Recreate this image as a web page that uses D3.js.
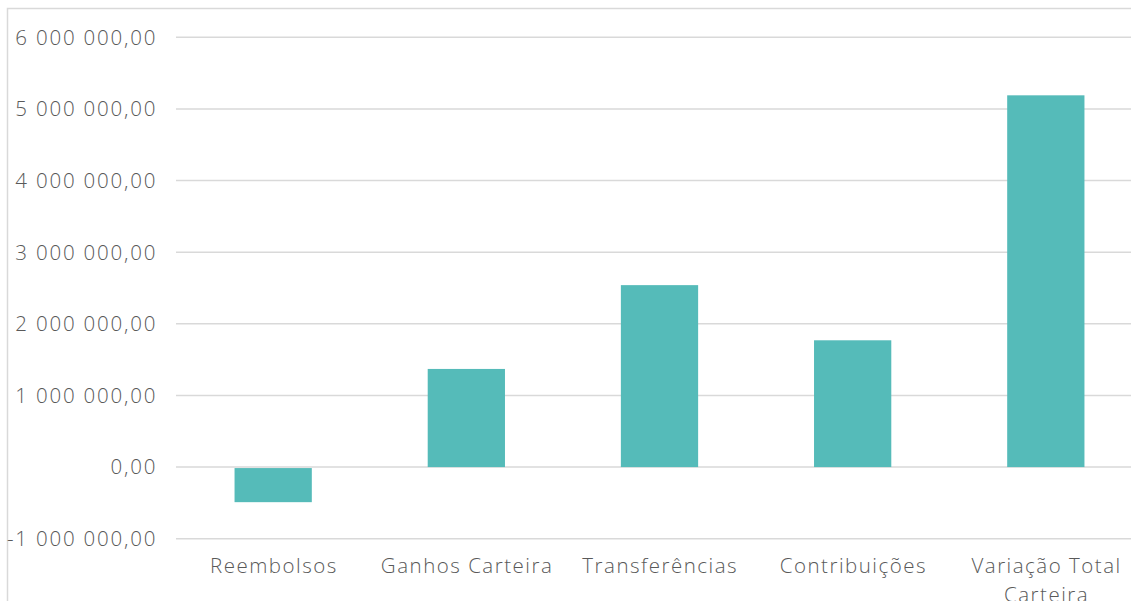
<!DOCTYPE html>
<html>
<head>
<meta charset="utf-8">
<script src="https://cdn.jsdelivr.net/npm/d3@7"></script>
<style>
  html, body { margin: 0; padding: 0; background: #fff; }
  svg { display: block; }
  text { font-family: 'Open Sans', sans-serif; font-weight: 300; fill: #595959; }
</style>
</head>
<body>
<div class="chart"></div>
<script>
const categories = ['Reembolsos', 'Ganhos Carteira', 'Transferências', 'Contribuições', 'Variação Total Carteira'];
const values = [-490000, 1370000, 2540000, 1770000, 5190000];
const yTicks = [-1000000, 0, 1000000, 2000000, 3000000, 4000000, 5000000, 6000000];

const style = {
  barColor: '#55bbb9',
  gridColor: '#d9d9d9',
  fontSize: 20.5,
  xLetterSpacing: 1.5,
  yLetterSpacing: 1.8,
};

const width = 1131;
const height = 601;

const locale = d3.formatLocale({ decimal: ',', thousands: ' ', grouping: [3], currency: ['', ''], minus: '-' });
const fmt = locale.format(',.2f');

const svg = d3.select('.chart')
  .append('svg')
  .attr('width', width)
  .attr('height', height);

// chart frame (cropped on the right and bottom in the original)
svg.append('rect')
  .attr('x', 7.5)
  .attr('y', 8.5)
  .attr('width', 1300)
  .attr('height', 800)
  .attr('fill', 'none')
  .attr('stroke', style.gridColor)
  .attr('stroke-width', 1.5);

const x = d3.scaleBand()
  .domain(categories)
  .range([176.6, 1142.4])
  .paddingInner(0.6)
  .paddingOuter(0.3);

const y = d3.scaleLinear()
  .domain([-1000000, 6000000])
  .range([538.7, 37.3]);

// gridlines
svg.append('g')
  .selectAll('line')
  .data(yTicks)
  .enter()
  .append('line')
  .attr('x1', 176)
  .attr('x2', 1142.4)
  .attr('y1', d => y(d))
  .attr('y2', d => y(d))
  .attr('stroke', style.gridColor)
  .attr('stroke-width', 1.5);

// y tick labels (letter-spacing trails the last glyph, so nudge the anchor)
svg.append('g')
  .selectAll('text')
  .data(yTicks)
  .enter()
  .append('text')
  .attr('x', 155.5 + style.yLetterSpacing)
  .attr('y', d => y(d))
  .attr('dy', '0.36em')
  .attr('text-anchor', 'end')
  .style('font-size', `${style.fontSize}px`)
  .style('letter-spacing', `${style.yLetterSpacing}px`)
  .text(d => fmt(d));

// bars
svg.append('g')
  .selectAll('rect')
  .data(values)
  .enter()
  .append('rect')
  .attr('x', (d, i) => x(categories[i]))
  .attr('width', x.bandwidth())
  .attr('y', d => Math.min(y(d), y(0)) + (d < 0 ? 1 : 0))
  .attr('height', d => Math.abs(y(d) - y(0)) - (d < 0 ? 1 : 0))
  .attr('fill', style.barColor);

// category labels, wrapped like the original
const labelLines = {
  'Variação Total Carteira': ['Variação Total', 'Carteira'],
};

const labels = svg.append('g')
  .selectAll('text')
  .data(categories)
  .enter()
  .append('text')
  .attr('text-anchor', 'middle')
  .style('font-size', `${style.fontSize}px`)
  .style('letter-spacing', `${style.xLetterSpacing}px`);

labels.each(function (d) {
  const lines = labelLines[d] || [d];
  const t = d3.select(this);
  lines.forEach((line, j) => {
    t.append('tspan')
      .attr('x', x(d) + x.bandwidth() / 2 + style.xLetterSpacing / 2)
      .attr('y', 573.3 + j * 28.4)
      .text(line);
  });
});
</script>
</body>
</html>
